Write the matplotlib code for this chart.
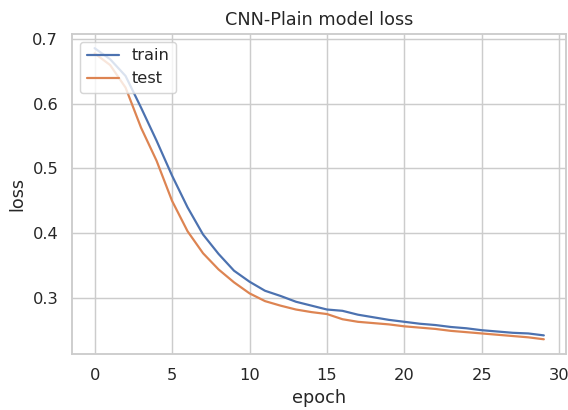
import matplotlib
matplotlib.use('Agg')
import matplotlib.pyplot as plt
import seaborn as sns

# loss per epoch
train_loss = [0.686, 0.669, 0.643, 0.594, 0.543, 0.489, 0.440, 0.398, 0.368, 0.342,
              0.325, 0.311, 0.303, 0.294, 0.288, 0.282, 0.280, 0.274, 0.270, 0.266,
              0.263, 0.260, 0.258, 0.255, 0.253, 0.250, 0.248, 0.246, 0.245, 0.242]
test_loss = [0.678, 0.660, 0.625, 0.563, 0.512, 0.450, 0.403, 0.369, 0.344, 0.324,
             0.307, 0.295, 0.288, 0.282, 0.278, 0.275, 0.267, 0.263, 0.261, 0.259,
             0.256, 0.254, 0.252, 0.249, 0.247, 0.245, 0.243, 0.241, 0.239, 0.236]
legend_labels = ['train', 'test']

sns.set(style='whitegrid')

dpi = 106
fig = plt.figure(figsize=(568 / dpi, 410 / dpi), dpi=dpi)
ax = fig.add_axes([0.127, 0.137, 0.87, 0.781])
ax.plot(train_loss)
ax.plot(test_loss)
ax.set_title('CNN-Plain model loss')
ax.set_ylabel('loss')
ax.set_xlabel('epoch')
ax.legend(legend_labels, loc='upper left')
fig.savefig('out.png', dpi=dpi)
